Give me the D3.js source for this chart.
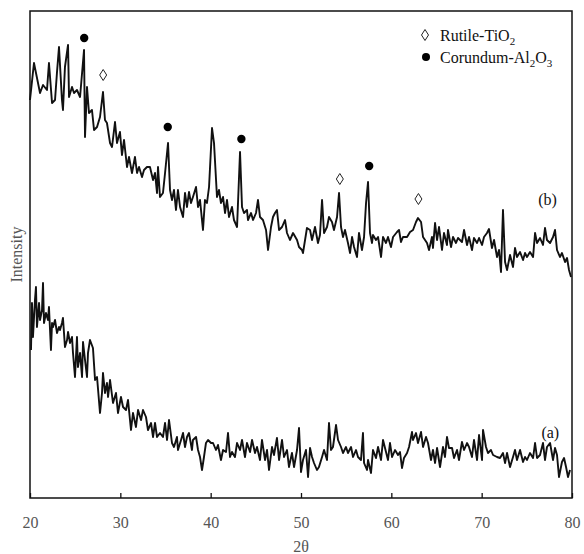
<!DOCTYPE html>
<html>
<head>
<meta charset="utf-8">
<script src="https://cdn.jsdelivr.net/npm/d3@7"></script>
<style>
  body { margin: 0; background: #fff; }
  svg { display: block; font-family: "Liberation Serif", "DejaVu Serif", serif; }
</style>
</head>
<body>
<div id="chart"></div>
<script>
// 2θ (deg), intensity (a.u.)
const patternB = [
  [20.00,398],[20.44,435],[21.11,405],[21.44,413],[21.88,408],[22.10,435],[22.44,395],[22.77,398],
  [22.99,426],[23.21,451],[23.54,398],[23.65,388],[23.87,431],[24.21,453],[24.32,401],[24.65,411],
  [24.87,405],[25.20,408],[25.54,401],[25.98,448],[26.09,361],[26.31,411],[26.53,385],[26.86,388],
  [27.09,368],[27.42,371],[27.75,381],[28.08,406],[28.30,378],[28.52,375],[28.86,355],[29.08,351],
  [29.41,376],[29.63,355],[29.96,366],[30.18,343],[30.41,358],[30.74,331],[30.96,341],[31.29,325],
  [31.62,341],[31.85,325],[32.07,331],[32.40,321],[32.62,328],[32.95,331],[33.28,331],[33.62,318],
  [33.84,325],[34.06,305],[34.17,331],[34.39,301],[34.72,305],[34.95,325],[35.28,355],[35.50,308],
  [35.72,298],[35.94,308],[36.16,288],[36.38,308],[36.61,291],[36.94,281],[37.16,305],[37.38,291],
  [37.60,306],[37.82,295],[38.04,301],[38.38,311],[38.60,291],[38.82,298],[39.15,268],[39.37,298],
  [39.59,295],[39.82,311],[40.15,370],[40.37,355],[40.70,301],[40.92,308],[41.14,295],[41.37,301],
  [41.59,285],[41.81,298],[42.03,281],[42.36,291],[42.58,278],[42.92,271],[43.25,346],[43.47,291],
  [43.69,285],[44.02,288],[44.13,278],[44.47,285],[44.69,278],[45.02,285],[45.24,298],[45.46,281],
  [45.79,278],[46.13,268],[46.35,248],[46.68,271],[46.90,281],[47.12,285],[47.34,288],[47.57,268],
  [47.90,271],[48.23,278],[48.45,265],[48.78,258],[49.12,265],[49.56,258],[49.78,251],[50.11,248],
  [50.22,245],[50.66,270],[51.00,268],[51.22,258],[51.55,271],[51.88,255],[52.10,263],[52.33,298],
  [52.55,265],[52.88,271],[53.10,281],[53.43,276],[53.65,268],[53.99,281],[54.21,305],[54.43,271],
  [54.65,261],[54.87,268],[55.20,255],[55.43,245],[55.65,261],[55.87,251],[56.20,241],[56.42,265],
  [56.75,248],[56.98,261],[57.20,295],[57.42,316],[57.64,265],[57.86,255],[57.97,263],[58.30,258],
  [58.53,261],[58.86,241],[59.08,261],[59.41,255],[59.63,261],[59.96,251],[60.19,261],[60.63,266],
  [60.85,268],[61.07,256],[61.29,261],[61.74,261],[62.07,266],[62.40,268],[62.73,276],[62.95,280],
  [63.29,276],[63.51,261],[63.95,255],[64.17,248],[64.50,261],[64.61,250],[64.84,275],[65.06,258],
  [65.28,271],[65.61,248],[65.83,265],[66.16,253],[66.27,268],[66.61,251],[66.83,261],[67.16,255],
  [67.38,260],[67.82,256],[68.05,268],[68.38,253],[68.60,261],[68.93,248],[69.15,260],[69.49,255],
  [69.71,260],[70.04,253],[70.26,261],[70.59,265],[70.81,269],[71.14,250],[71.37,258],[71.70,241],
  [71.92,248],[72.14,226],[72.36,288],[72.59,236],[72.81,228],[73.14,243],[73.47,231],[73.69,250],
  [73.91,241],[74.25,246],[74.58,238],[74.80,245],[75.02,241],[75.35,246],[75.69,241],[75.91,265],
  [76.13,255],[76.46,260],[76.79,253],[77.01,270],[77.23,258],[77.57,255],[77.90,261],[78.12,268],
  [78.34,248],[78.67,241],[78.89,245],[79.23,236],[79.45,240],[79.67,228],[79.89,221]
];

const patternA = [
  [20.11,148],[20.22,195],[20.33,161],[20.55,198],[20.66,211],[20.77,171],[21.00,195],[21.11,178],
  [21.33,188],[21.44,215],[21.55,175],[21.77,185],[21.99,178],[22.10,191],[22.32,148],[22.44,175],
  [22.55,171],[22.77,178],[22.99,165],[23.21,171],[23.32,168],[23.54,175],[23.65,180],[23.87,151],
  [24.10,158],[24.21,166],[24.43,155],[24.65,161],[24.76,145],[24.98,121],[25.20,161],[25.31,131],
  [25.54,145],[25.76,121],[25.87,156],[26.09,138],[26.31,121],[26.42,145],[26.64,158],[26.97,150],
  [27.20,118],[27.42,121],[27.75,85],[27.97,105],[28.08,125],[28.30,105],[28.52,115],[28.64,101],
  [28.86,118],[29.19,95],[29.52,105],[29.74,85],[30.07,101],[30.30,91],[30.63,88],[30.85,98],
  [31.18,68],[31.40,85],[31.73,71],[31.96,88],[32.29,78],[32.51,88],[32.84,81],[33.06,68],
  [33.40,75],[33.62,61],[33.84,75],[34.06,61],[34.39,65],[34.72,61],[34.95,75],[35.17,58],
  [35.39,78],[35.72,55],[35.94,51],[36.27,61],[36.38,48],[36.72,58],[36.94,65],[37.16,51],
  [37.38,61],[37.60,65],[37.93,48],[38.04,58],[38.38,61],[38.60,48],[38.82,41],[39.04,28],
  [39.26,41],[39.48,55],[39.71,58],[40.04,55],[40.26,55],[40.59,48],[40.81,53],[41.14,38],
  [41.37,48],[41.70,46],[41.92,65],[42.14,41],[42.36,46],[42.69,41],[42.92,55],[43.25,48],
  [43.47,58],[43.80,41],[44.02,55],[44.36,46],[44.58,58],[44.91,45],[45.13,51],[45.46,38],
  [45.68,58],[46.02,38],[46.24,48],[46.46,28],[46.79,51],[47.01,43],[47.34,60],[47.57,38],
  [47.90,58],[48.12,41],[48.45,48],[48.67,31],[49.00,45],[49.23,31],[49.56,48],[49.78,70],
  [50.00,26],[50.22,38],[50.55,48],[50.78,21],[51.00,50],[51.22,41],[51.44,35],[51.77,28],
  [51.99,31],[52.33,41],[52.55,48],[52.88,38],[53.10,75],[53.32,48],[53.54,51],[53.88,73],
  [54.10,58],[54.43,51],[54.65,45],[54.98,51],[55.20,45],[55.54,51],[55.76,41],[56.09,48],
  [56.31,41],[56.64,38],[56.86,65],[56.98,35],[57.31,28],[57.42,38],[57.75,25],[57.97,48],
  [58.30,40],[58.53,51],[58.86,38],[59.08,58],[59.41,46],[59.63,38],[59.85,55],[60.08,41],
  [60.41,48],[60.74,43],[60.96,46],[61.18,30],[61.40,40],[61.74,45],[61.96,51],[62.29,66],
  [62.40,58],[62.73,65],[62.95,55],[63.29,66],[63.51,51],[63.84,61],[64.06,55],[64.39,38],
  [64.61,48],[64.84,35],[65.06,50],[65.39,31],[65.72,51],[65.94,41],[66.16,61],[66.38,50],
  [66.72,50],[66.94,40],[67.27,48],[67.49,38],[67.82,56],[68.05,48],[68.38,55],[68.60,51],
  [68.93,41],[69.15,58],[69.49,38],[69.71,63],[70.04,38],[70.15,68],[70.48,51],[70.70,45],
  [71.03,48],[71.26,43],[71.70,41],[72.03,40],[72.36,45],[72.59,35],[72.81,45],[73.14,31],
  [73.47,41],[73.69,48],[73.91,38],[74.25,48],[74.58,36],[74.80,41],[75.02,38],[75.35,45],
  [75.69,40],[75.91,55],[76.13,40],[76.46,43],[76.79,55],[77.01,38],[77.23,51],[77.57,55],
  [77.90,38],[78.12,50],[78.34,43],[78.56,21],[78.89,36],[79.12,40],[79.34,31],[79.56,21],
  [79.78,28]
];

// phase markers above the peaks of (b): [2θ, intensity level]
const corundumMarks = [[26.0,460],[35.25,371],[43.4,359],[57.55,332]];
const rutileMarks = [[28.1,423],[54.3,319],[63.0,299]];

const xTicks = [20, 30, 40, 50, 60, 70, 80];
const seriesLabels = [
  {text: "(b)", at: [77.3, 293]},
  {text: "(a)", at: [77.6, 60]}
];

const width = 584, height = 554;
const margin = {top: 11, right: 12, bottom: 56, left: 30};
const innerW = width - margin.left - margin.right;
const innerH = height - margin.top - margin.bottom;

const svg = d3.select("#chart")
    .append("svg")
    .attr("width", width)
    .attr("height", height);

const x = d3.scaleLinear().domain([20, 80]).range([margin.left, margin.left + innerW]);
const y = d3.scaleLinear().domain([0, 487]).range([margin.top + innerH, margin.top]);

// x axis, ticks pointing inward
const xAxis = svg.append("g")
    .attr("transform", `translate(0,${margin.top + innerH})`)
    .call(d3.axisBottom(x).tickValues(xTicks).tickSizeInner(-5).tickSizeOuter(0).tickPadding(19).tickFormat(d3.format("d")));
xAxis.select(".domain").remove();
xAxis.selectAll("line").attr("stroke", "#111").attr("stroke-width", 1.3);
xAxis.selectAll("text")
    .attr("font-family", "Liberation Serif, serif")
    .attr("font-size", 16)
    .attr("fill", "#555");

// frame
svg.append("rect")
    .attr("x", margin.left)
    .attr("y", margin.top)
    .attr("width", innerW)
    .attr("height", innerH)
    .attr("fill", "none")
    .attr("stroke", "#111")
    .attr("stroke-width", 1.5);

const line = d3.line()
    .x(d => x(d[0]))
    .y(d => y(d[1]));

[patternA, patternB].forEach(p => {
    svg.append("path")
        .datum(p)
        .attr("d", line)
        .attr("fill", "none")
        .attr("stroke", "#111")
        .attr("stroke-width", 1.9)
        .attr("stroke-linejoin", "round");
});

// markers
const diamond = (cx, cy) => `M${cx},${cy - 5.5}L${cx + 3.5},${cy}L${cx},${cy + 5.5}L${cx - 3.5},${cy}Z`;

svg.append("g").selectAll("circle")
    .data(corundumMarks)
    .join("circle")
    .attr("cx", d => x(d[0]))
    .attr("cy", d => y(d[1]))
    .attr("r", 4.2)
    .attr("fill", "#000");

svg.append("g").selectAll("path")
    .data(rutileMarks)
    .join("path")
    .attr("d", d => diamond(x(d[0]), y(d[1])))
    .attr("fill", "#fff")
    .attr("stroke", "#222")
    .attr("stroke-width", 1);

// legend
const legend = svg.append("g").attr("font-size", 16).attr("fill", "#111");
legend.append("path")
    .attr("d", diamond(425, 35))
    .attr("fill", "#fff")
    .attr("stroke", "#222")
    .attr("stroke-width", 1);
const t1 = legend.append("text").attr("x", 440).attr("y", 41);
t1.append("tspan").text("Rutile-TiO");
t1.append("tspan").attr("font-size", 11).attr("dy", 4).text("2");

legend.append("circle").attr("cx", 426).attr("cy", 57).attr("r", 4).attr("fill", "#000");
const t2 = legend.append("text").attr("x", 440).attr("y", 63);
t2.append("tspan").text("Corundum-Al");
t2.append("tspan").attr("font-size", 11).attr("dy", 4).text("2");
t2.append("tspan").attr("dy", -4).text("O");
t2.append("tspan").attr("font-size", 11).attr("dy", 4).text("3");

// series labels
svg.append("g").selectAll("text")
    .data(seriesLabels)
    .join("text")
    .attr("x", d => x(d.at[0]))
    .attr("y", d => y(d.at[1]))
    .attr("text-anchor", "middle")
    .attr("font-size", 16)
    .attr("fill", "#111")
    .text(d => d.text);

// axis titles
svg.append("text")
    .attr("x", margin.left + innerW / 2)
    .attr("y", 552)
    .attr("text-anchor", "middle")
    .attr("font-size", 16)
    .attr("fill", "#555")
    .text("2θ");

svg.append("text")
    .attr("transform", `translate(22,${margin.top + innerH / 2}) rotate(-90)`)
    .attr("text-anchor", "middle")
    .attr("font-size", 16)
    .attr("fill", "#555")
    .text("Intensity");
</script>
</body>
</html>
